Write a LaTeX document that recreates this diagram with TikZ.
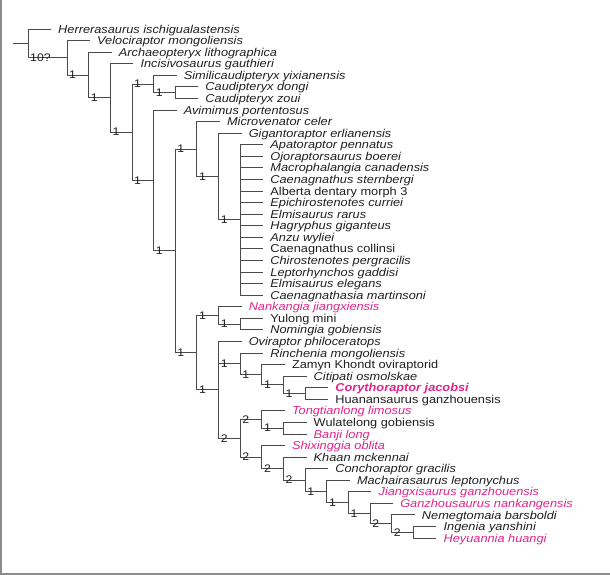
\documentclass[tikz,border=0pt]{standalone}
\usepackage{fontspec}
\newfontfamily\taxfont{Liberation Sans}[FakeStretch=1.12]
\definecolor{newtaxon}{HTML}{E2238A}
\definecolor{branchgray}{HTML}{4A4A4A}
\definecolor{framegray}{HTML}{8C8C8C}

\begin{document}
\begin{tikzpicture}
    [
        x=1pt, y=-1pt,
        branch/.style = {draw=branchgray, line width=0.9pt},
        frameline/.style = {draw=framegray, line width=1.4pt},
        taxon/.style = {anchor=west, inner xsep=7pt, inner ysep=0pt, text height=8.2pt, text depth=0pt, font=\taxfont\fontsize{11.4}{12}\selectfont\itshape, text=black!88},
        newsp/.style = {taxon, text=newtaxon},
        support/.style = {anchor=west, inner sep=0pt, xshift=2pt, font=\taxfont\fontsize{11}{12}\selectfont, text=black!88},
    ]

    \useasboundingbox (0,0) rectangle (610,575);

    \coordinate (tl) at (1,0);
    \coordinate (bl) at (1,574);
    \coordinate (br) at (610,574);
    \draw[frameline] (tl) -- (bl) -- (br);

    \coordinate (base) at (13,43.4);
    \coordinate (nA)   at (28,43.4);
    \coordinate (nB)   at (67,57.8);
    \coordinate (nC)   at (88.65,75.0);
    \coordinate (nD)   at (110.3,97.95);
    \coordinate (nE)   at (131.95,132.2);
    \coordinate (nF)   at (153.6,83.98);
    \coordinate (nFa)  at (175.25,92.65);
    \coordinate (nG)   at (153.6,180.4);
    \coordinate (nH)   at (175.25,250.8);
    \coordinate (nI)   at (196.9,149.05);
    \coordinate (nIa)  at (218.55,176.5);
    \coordinate (nIb)  at (240.2,219.9);
    \coordinate (nJ)   at (196.9,352.6);
    \coordinate (nK)   at (218.55,315.4);
    \coordinate (nKa)  at (240.2,324.05);
    \coordinate (nL)   at (218.55,389.85);
    \coordinate (nM)   at (240.2,363.8);
    \coordinate (nMa)  at (261.85,374.65);
    \coordinate (nMb)  at (283.5,384.8);
    \coordinate (nMc)  at (305.15,393.45);
    \coordinate (nN)   at (240.2,438.3);
    \coordinate (nNa)  at (261.85,419.5);
    \coordinate (nNb)  at (283.5,428.2);
    \coordinate (nP)   at (261.85,457.05);
    \coordinate (nQ)   at (283.5,468.6);
    \coordinate (nR)   at (305.15,480.05);
    \coordinate (nS)   at (326.8,491.4);
    \coordinate (nT)   at (348.45,502.65);
    \coordinate (nU)   at (370.1,513.5);
    \coordinate (nV)   at (391.75,523.6);
    \coordinate (nW)   at (413.4,532.3);

    \node[taxon] (herrera)  at (51,29.0)     {Herrerasaurus ischigualastensis};
    \node[taxon] (velo)     at (90,40.6)     {Velociraptor mongoliensis};
    \node[taxon] (archaeo)  at (111.65,52.1) {Archaeopteryx lithographica};
    \node[taxon] (incisivo) at (133.3,63.7)  {Incisivosaurus gauthieri};
    \node[taxon] (simili)   at (176.6,75.3)  {Similicaudipteryx yixianensis};
    \node[taxon] (cdongi)   at (198.25,86.9) {Caudipteryx dongi};
    \node[taxon] (czoui)    at (198.25,98.4) {Caudipteryx zoui};
    \node[taxon] (avimimus) at (176.6,110.0) {Avimimus portentosus};
    \node[taxon] (microv)   at (219.9,121.6) {Microvenator celer};
    \node[taxon] (giganto)  at (241.55,133.1) {Gigantoraptor erlianensis};

    \node[taxon] (apato)    at (263.2,144.7) {Apatoraptor pennatus};
    \node[taxon] (ojorapt)  at (263.2,156.3) {Ojoraptorsaurus boerei};
    \node[taxon] (macroph)  at (263.2,167.8) {Macrophalangia canadensis};
    \node[taxon] (csternb)  at (263.2,179.4) {Caenagnathus sternbergi};
    \node[taxon] (alberta)  at (263.2,191.0) {\upshape Alberta dentary morph 3};
    \node[taxon] (epichiro) at (263.2,202.6) {Epichirostenotes curriei};
    \node[taxon] (erarus)   at (263.2,214.1) {Elmisaurus rarus};
    \node[taxon] (hagry)    at (263.2,225.7) {Hagryphus giganteus};
    \node[taxon] (anzu)     at (263.2,237.3) {Anzu wyliei};
    \node[taxon] (ccollin)  at (263.2,248.8) {\upshape Caenagnathus collinsi};
    \node[taxon] (chiro)    at (263.2,260.4) {Chirostenotes pergracilis};
    \node[taxon] (lepto)    at (263.2,272.0) {Leptorhynchos gaddisi};
    \node[taxon] (eeleg)    at (263.2,283.5) {Elmisaurus elegans};
    \node[taxon] (caenasia) at (263.2,295.1) {Caenagnathasia martinsoni};

    \node[newsp] (nankangia) at (241.55,306.7) {Nankangia jiangxiensis};
    \node[taxon] (yulong)    at (263.2,318.3)  {\upshape Yulong mini};
    \node[taxon] (nomingia)  at (263.2,329.8)  {Nomingia gobiensis};
    \node[taxon] (ovir)      at (241.55,341.4) {Oviraptor philoceratops};
    \node[taxon] (rinch)     at (263.2,353.0)  {Rinchenia mongoliensis};
    \node[taxon] (zamyn)     at (284.85,364.5) {\upshape Zamyn Khondt oviraptorid};
    \node[taxon] (citipati)  at (306.5,376.1)  {Citipati osmolskae};
    \node[newsp] (corytho)   at (328.15,387.7) {\bfseries Corythoraptor jacobsi};
    \node[taxon] (huanan)    at (328.15,399.2) {\upshape Huanansaurus ganzhouensis};
    \node[newsp] (tongtian)  at (284.85,410.8) {Tongtianlong limosus};
    \node[taxon] (wulate)    at (306.5,422.4)  {\upshape Wulatelong gobiensis};
    \node[newsp] (banji)     at (306.5,434.0)  {Banji long};
    \node[newsp] (shixing)   at (284.85,445.5) {Shixinggia oblita};
    \node[taxon] (khaan)     at (306.5,457.1)  {Khaan mckennai};
    \node[taxon] (conchor)   at (328.15,468.7) {Conchoraptor gracilis};
    \node[taxon] (machair)   at (349.8,480.2)  {Machairasaurus leptonychus};
    \node[newsp] (jiangxi)   at (371.45,491.8) {Jiangxisaurus ganzhouensis};
    \node[newsp] (ganzhou)   at (393.1,503.4)  {Ganzhousaurus nankangensis};
    \node[taxon] (nemegt)    at (414.75,514.9) {Nemegtomaia barsboldi};
    \node[taxon] (ingenia)   at (436.4,526.5)  {Ingenia yanshini};
    \node[newsp] (heyuan)    at (436.4,538.1)  {Heyuannia huangi};

    \draw[branch] (base) -- (nA);
    \draw[branch] (nA) |- (herrera.west)  (nA) |- (nB);
    \draw[branch] (nB) |- (velo.west)     (nB) |- (nC);
    \draw[branch] (nC) |- (archaeo.west)  (nC) |- (nD);
    \draw[branch] (nD) |- (incisivo.west) (nD) |- (nE);
    \draw[branch] (nE) |- (nF)            (nE) |- (nG);
    \draw[branch] (nF) |- (simili.west)   (nF) |- (nFa);
    \draw[branch] (nFa) |- (cdongi.west)  (nFa) |- (czoui.west);
    \draw[branch] (nG) |- (avimimus.west) (nG) |- (nH);
    \draw[branch] (nH) |- (nI)            (nH) |- (nJ);
    \draw[branch] (nI) |- (microv.west)   (nI) |- (nIa);
    \draw[branch] (nIa) |- (giganto.west) (nIa) |- (nIb);
    \draw[branch] (nIb) |- (apato.west)   (nIb) |- (ojorapt.west)  (nIb) |- (macroph.west)
                  (nIb) |- (csternb.west) (nIb) |- (alberta.west)  (nIb) |- (epichiro.west)
                  (nIb) |- (erarus.west)  (nIb) |- (hagry.west)    (nIb) |- (anzu.west)
                  (nIb) |- (ccollin.west) (nIb) |- (chiro.west)    (nIb) |- (lepto.west)
                  (nIb) |- (eeleg.west)   (nIb) |- (caenasia.west);
    \draw[branch] (nJ) |- (nK)              (nJ) |- (nL);
    \draw[branch] (nK) |- (nankangia.west)  (nK) |- (nKa);
    \draw[branch] (nKa) |- (yulong.west)    (nKa) |- (nomingia.west);
    \draw[branch] (nL) |- (ovir.west)       (nL) |- (nM)  (nL) |- (nN);
    \draw[branch] (nM) |- (rinch.west)      (nM) |- (nMa);
    \draw[branch] (nMa) |- (zamyn.west)     (nMa) |- (nMb);
    \draw[branch] (nMb) |- (citipati.west)  (nMb) |- (nMc);
    \draw[branch] (nMc) |- (corytho.west)   (nMc) |- (huanan.west);
    \draw[branch] (nN) |- (nNa)             (nN) |- (nP);
    \draw[branch] (nNa) |- (tongtian.west)  (nNa) |- (nNb);
    \draw[branch] (nNb) |- (wulate.west)    (nNb) |- (banji.west);
    \draw[branch] (nP) |- (shixing.west)    (nP) |- (nQ);
    \draw[branch] (nQ) |- (khaan.west)      (nQ) |- (nR);
    \draw[branch] (nR) |- (conchor.west)    (nR) |- (nS);
    \draw[branch] (nS) |- (machair.west)    (nS) |- (nT);
    \draw[branch] (nT) |- (jiangxi.west)    (nT) |- (nU);
    \draw[branch] (nU) |- (ganzhou.west)    (nU) |- (nV);
    \draw[branch] (nV) |- (nemegt.west)     (nV) |- (nW);
    \draw[branch] (nW) |- (ingenia.west)    (nW) |- (heyuan.west);

    \node[support] (sB)  at (nA |- nB)   {10?};
    \node[support] (sC)  at (nB |- nC)   {1};
    \node[support] (sD)  at (nC |- nD)   {1};
    \node[support] (sE)  at (nD |- nE)   {1};
    \node[support] (sF)  at (nE |- nF)   {1};
    \node[support] (sFa) at (nF |- nFa)  {1};
    \node[support] (sG)  at (nE |- nG)   {1};
    \node[support] (sH)  at (nG |- nH)   {1};
    \node[support] (sI)  at (nH |- nI)   {1};
    \node[support] (sIa) at (nI |- nIa)  {1};
    \node[support] (sIb) at (nIa |- nIb) {1};
    \node[support] (sJ)  at (nH |- nJ)   {1};
    \node[support] (sK)  at (nJ |- nK)   {1};
    \node[support] (sKa) at (nK |- nKa)  {1};
    \node[support] (sL)  at (nJ |- nL)   {1};
    \node[support] (sM)  at (nL |- nM)   {1};
    \node[support] (sMa) at (nM |- nMa)  {1};
    \node[support] (sMb) at (nMa |- nMb) {1};
    \node[support] (sMc) at (nMb |- nMc) {1};
    \node[support] (sN)  at (nL |- nN)   {2};
    \node[support] (sNa) at (nN |- nNa)  {2};
    \node[support] (sNb) at (nNa |- nNb) {1};
    \node[support] (sP)  at (nN |- nP)   {2};
    \node[support] (sQ)  at (nP |- nQ)   {2};
    \node[support] (sR)  at (nQ |- nR)   {2};
    \node[support] (sS)  at (nR |- nS)   {1};
    \node[support] (sT)  at (nS |- nT)   {1};
    \node[support] (sU)  at (nT |- nU)   {1};
    \node[support] (sV)  at (nU |- nV)   {2};
    \node[support] (sW)  at (nV |- nW)   {2};
\end{tikzpicture}
\end{document}
